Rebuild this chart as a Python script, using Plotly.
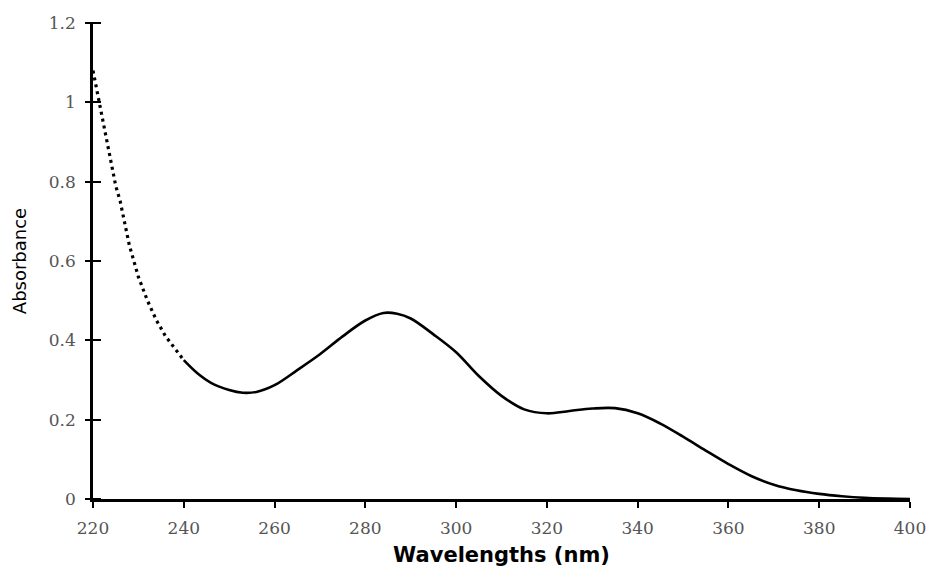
import plotly.graph_objects as go

# Wavelength (nm) and absorbance
wl_steep = [220, 221, 222, 223, 224, 225, 226, 228, 230, 232, 234, 236, 238, 240]
abs_steep = [1.08, 1.02, 0.97, 0.90, 0.85, 0.79, 0.75, 0.64, 0.56, 0.50, 0.45, 0.41, 0.38, 0.35]

wl_main = [240, 243, 246, 250, 253, 256, 260, 265, 270, 275, 280, 284, 287, 290, 295,
           300, 305, 310, 315, 320, 325, 330, 335, 340, 345, 350, 355, 360, 365, 370,
           375, 380, 385, 390, 395, 400]
abs_main = [0.35, 0.317, 0.293, 0.275, 0.268, 0.27, 0.287, 0.325, 0.365, 0.41, 0.45,
            0.469, 0.467, 0.455, 0.415, 0.37, 0.31, 0.26, 0.226, 0.216, 0.222, 0.228,
            0.229, 0.216, 0.19, 0.157, 0.122, 0.088, 0.058, 0.036, 0.022, 0.013, 0.007,
            0.003, 0.001, 0.0]

x_ticks = [220, 240, 260, 280, 300, 320, 340, 360, 380, 400]
y_ticks = [0, 0.2, 0.4, 0.6, 0.8, 1, 1.2]

fig = go.Figure()
fig.add_trace(go.Scatter(x=wl_steep, y=abs_steep, mode="lines",
                         line=dict(color="black", width=3.2, dash="3px,4px"),
                         showlegend=False, hoverinfo="skip"))
fig.add_trace(go.Scatter(x=wl_main, y=abs_main, mode="lines", line_shape="spline",
                         line=dict(color="black", width=2.6),
                         showlegend=False))
# invisible trace on a second y axis, used only to draw the crossing tick marks
fig.add_trace(go.Scatter(x=[220], y=[0], yaxis="y2", mode="markers",
                         marker=dict(opacity=0), showlegend=False, hoverinfo="skip"))

tick_font = dict(family="DejaVu Serif, Liberation Serif, serif", size=17, color="#555")

fig.update_layout(
    width=928, height=567,
    margin=dict(l=93, r=18, t=23, b=68, autoexpand=False),
    paper_bgcolor="white", plot_bgcolor="white",
    xaxis=dict(range=[220, 400], tickvals=x_ticks, showgrid=False, zeroline=False,
               showline=True, linecolor="black", linewidth=2.5, automargin=True,
               ticks="outside", ticklen=6, tickwidth=2, tickcolor="black",
               tickfont=tick_font, ticklabelstandoff=6,
               title=dict(text="<b>Wavelengths (nm)</b>", standoff=16,
                          font=dict(family="DejaVu Sans, Liberation Sans, sans-serif", size=21, color="black"))),
    yaxis=dict(range=[0, 1.2], tickvals=y_ticks, showgrid=False, zeroline=False,
               showline=True, linecolor="black", linewidth=2.5, automargin=False,
               ticks="", tickfont=tick_font, ticklabelstandoff=11,
               title=dict(text="Absorbance", standoff=18,
                          font=dict(family="DejaVu Sans, Liberation Sans, sans-serif", size=18, color="black"))),
    yaxis2=dict(range=[0, 1.2], tickvals=y_ticks, overlaying="y", side="left",
                anchor="free", position=8 / 817, automargin=False,
                showgrid=False, zeroline=False, showline=False,
                ticks="outside", ticklen=16, tickwidth=2, tickcolor="black",
                showticklabels=False),
)

fig.write_html("out.html")
